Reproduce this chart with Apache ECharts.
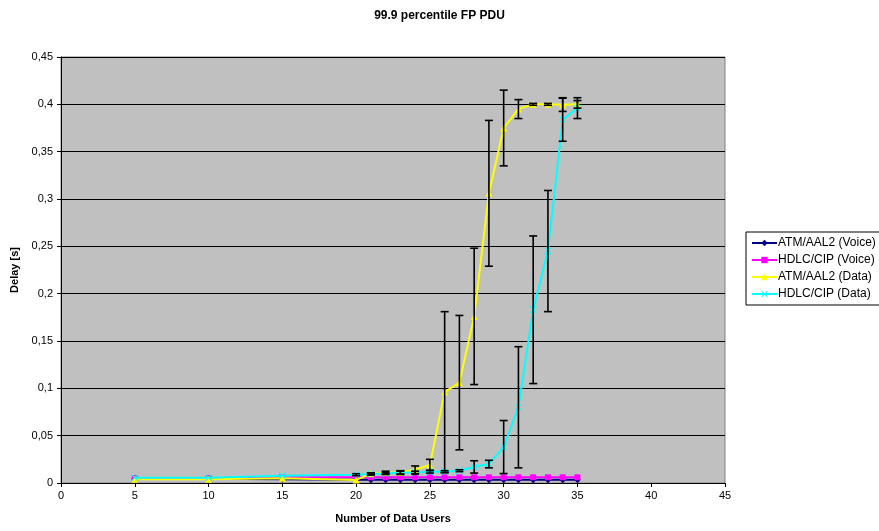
<!DOCTYPE html>
<html>
<head>
<meta charset="utf-8">
<script src="https://cdn.jsdelivr.net/npm/echarts@6/dist/echarts.min.js"></script>
<style>
html,body{margin:0;padding:0;background:#fff;}
#chart{width:879px;height:531px;}
</style>
</head>
<body>
<div id="chart"></div>
<script>
var users = [5,10,15,20,21,22,23,24,25,26,27,28,29,30,31,32,33,34,35];
var atmVoice  = [0.0045,0.0045,0.004,0.0035,0.0035,0.0035,0.0035,0.0035,0.0035,0.0035,0.0035,0.0035,0.0035,0.0035,0.0035,0.0035,0.0035,0.0035,0.0035];
var hdlcVoice = [0.005,0.005,0.006,0.006,0.006,0.006,0.006,0.006,0.006,0.006,0.006,0.006,0.006,0.006,0.006,0.006,0.006,0.006,0.006];
var atmData   = [0.004,0.004,0.005,0.0033,0.0097,0.011,0.011,0.014,0.019,0.096,0.106,0.176,0.306,0.375,0.395,0.400,0.400,0.3995,0.4];
var hdlcData  = [0.0055,0.0055,0.0077,0.0088,0.0095,0.010,0.011,0.011,0.012,0.012,0.013,0.017,0.020,0.038,0.080,0.183,0.245,0.384,0.396];
var atmDataErr  = [0,0,0,0,0.001,0.0015,0.002,0.004,0.006,0.085,0.071,0.072,0.077,0.040,0.010,0.001,0.001,0.007,0.004];
var hdlcDataErr = [0,0,0,0.001,0.001,0.001,0.0015,0.0015,0.0015,0.001,0.001,0.0065,0.004,0.028,0.064,0.078,0.064,0.023,0.011];
var seriesNames = ['ATM/AAL2 (Voice)','HDLC/CIP (Voice)','ATM/AAL2 (Data)','HDLC/CIP (Data)'];
var yTicks = ['0','0,05','0,1','0,15','0,2','0,25','0,3','0,35','0,4','0,45'];

function pairs(vals){ return users.map(function(u,i){ return [u, vals[i]]; }); }
function errData(vals, errs){
  var out = [];
  users.forEach(function(u,i){ if (errs[i] > 0) out.push([u, vals[i]-errs[i], vals[i]+errs[i]]); });
  return out;
}
function renderErr(params, api){
  var x = api.value(0);
  var lo = api.coord([x, api.value(1)]);
  var hi = api.coord([x, api.value(2)]);
  var hw = 4;
  var st = {stroke:'#000', lineWidth:1.6};
  return {type:'group', children:[
    {type:'line', shape:{x1:lo[0],y1:lo[1],x2:hi[0],y2:hi[1]}, style:st},
    {type:'line', shape:{x1:lo[0]-hw,y1:lo[1],x2:lo[0]+hw,y2:lo[1]}, style:st},
    {type:'line', shape:{x1:hi[0]-hw,y1:hi[1],x2:hi[0]+hw,y2:hi[1]}, style:st}
  ]};
}
var xSym = 'path://M0,1L1,0L5,4L9,0L10,1L6,5L10,9L9,10L5,6L1,10L0,9L4,5Z';
var font = 'Liberation Sans, Arial, sans-serif';

var chart = echarts.init(document.getElementById('chart'), null, {renderer:'canvas'});
chart.setOption({
  animation:false,
  backgroundColor:'#ffffff',
  title:{text:'99.9 percentile FP PDU', left:'center', top:5,
    textStyle:{fontFamily:font, fontSize:12, fontWeight:'bold', color:'#000'}},
  grid:{left:61, right:154, top:57, bottom:48, show:true, backgroundColor:'#C0C0C0', borderColor:'#808080', borderWidth:1},
  legend:{orient:'vertical', left:746, top:232, itemGap:5, itemWidth:25, itemHeight:8,
    padding:[5,14,5,5], borderColor:'#000', borderWidth:1, backgroundColor:'#fff',
    data:seriesNames,
    textStyle:{fontFamily:font, fontSize:12, color:'#000', padding:[0,0,0,-4]}},
  xAxis:{type:'value', min:0, max:45, interval:5,
    name:'Number of Data Users', nameLocation:'middle', nameGap:30,
    nameTextStyle:{fontFamily:font, fontSize:11, fontWeight:'bold', color:'#000'},
    axisLine:{onZero:false, lineStyle:{color:'#000', width:1}},
    axisTick:{show:true, length:4, lineStyle:{color:'#000'}},
    axisLabel:{fontFamily:font, fontSize:11, color:'#000', margin:7},
    splitLine:{show:false}},
  yAxis:{type:'value', min:0, max:0.45, interval:0.05,
    name:'Delay [s]', nameLocation:'middle', nameGap:28,
    nameTextStyle:{fontFamily:font, fontSize:11, fontWeight:'bold', color:'#000'},
    axisLine:{show:true, lineStyle:{color:'#000', width:1}},
    axisTick:{show:true, length:4, lineStyle:{color:'#000'}},
    axisLabel:{fontFamily:font, fontSize:11, color:'#000', margin:8,
      formatter:function(v){ var i = Math.round(v/0.05); return yTicks[i] !== undefined ? yTicks[i] : ''; }},
    splitLine:{show:true, lineStyle:{color:'#000', width:1}}},
  series:[
    {name:seriesNames[0], type:'line', data:pairs(atmVoice), symbol:'diamond', symbolSize:7,
      itemStyle:{color:'#000080'}, lineStyle:{color:'#000080', width:2}, z:3},
    {name:seriesNames[1], type:'line', data:pairs(hdlcVoice), symbol:'rect', symbolSize:6,
      itemStyle:{color:'#FF00FF'}, lineStyle:{color:'#FF00FF', width:2}, z:3},
    {name:seriesNames[2], type:'line', data:pairs(atmData), symbol:'triangle', symbolSize:7,
      itemStyle:{color:'#FFFF00'}, lineStyle:{color:'#FFFF00', width:2}, z:4},
    {name:seriesNames[3], type:'line', data:pairs(hdlcData), symbol:xSym, symbolSize:7,
      itemStyle:{color:'#00FFFF'}, lineStyle:{color:'#00FFFF', width:2}, z:4},
    {type:'custom', data:errData(atmData, atmDataErr), renderItem:renderErr, z:5, silent:true,
      encode:{x:0, y:[1,2]}},
    {type:'custom', data:errData(hdlcData, hdlcDataErr), renderItem:renderErr, z:5, silent:true,
      encode:{x:0, y:[1,2]}}
  ]
});
</script>
</body>
</html>
